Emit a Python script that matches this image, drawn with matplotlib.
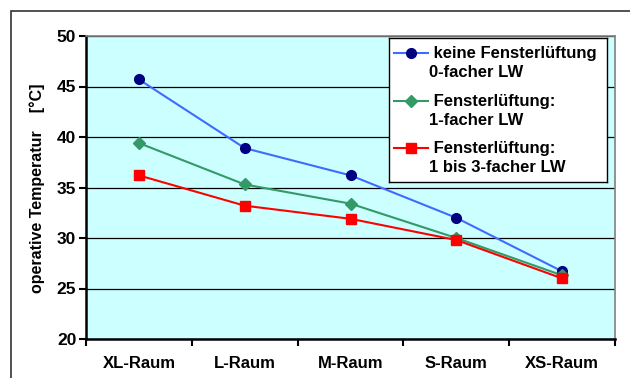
import matplotlib
matplotlib.use("Agg")
import matplotlib.pyplot as plt
from matplotlib.patches import Rectangle

# Daten
raeume = ["XL-Raum", "L-Raum", "M-Raum", "S-Raum", "XS-Raum"]
keine_lueftung = [45.7, 38.9, 36.2, 32.0, 26.7]
lueftung_1fach = [39.4, 35.3, 33.4, 30.0, 26.3]
lueftung_1bis3 = [36.2, 33.2, 31.9, 29.8, 26.0]

labels = [" keine Fensterlüftung\n0-facher LW",
          " Fensterlüftung:\n1-facher LW",
          " Fensterlüftung:\n1 bis 3-facher LW"]

plt.rcParams["font.family"] = ["Liberation Sans", "DejaVu Sans"]
plt.rcParams["font.weight"] = "bold"

W, H = 630, 378
fig = plt.figure(figsize=(W / 100, H / 100), dpi=100)

# aeusserer Rahmen
fig.patches.append(Rectangle((11 / W, -0.2), 1.2, 1.2 - 11 / H, transform=fig.transFigure,
                             fill=False, edgecolor="#333333", linewidth=1.2))

ax = fig.add_axes([86 / W, 1 - 339 / H, 529 / W, 303 / H])
ax.set_facecolor("#CCFFFF")

x = list(range(len(raeume)))
serien = [
    (keine_lueftung, "#3F6BFF", "o", "#000080", 7),
    (lueftung_1fach, "#339966", "D", "#339966", 6),
    (lueftung_1bis3, "#FF0000", "s", "#FF0000", 7),
]
for werte, lc, m, mc, ms in serien:
    ax.plot(x, werte, color=lc, linewidth=1.5, marker=m, markersize=ms,
            markerfacecolor=mc, markeredgecolor=mc, zorder=3)

ax.set_xlim(-0.5, len(raeume) - 0.5)
ax.set_ylim(20, 50)
ax.set_yticks(range(20, 51, 5))
ax.grid(axis="y", color="black", linewidth=0.9)
ax.set_axisbelow(True)

ax.set_xticks([i - 0.5 for i in range(len(raeume) + 1)])
ax.set_xticklabels([])
ax.set_xticks(x, minor=True)
ax.set_xticklabels(raeume, minor=True, fontsize=12, fontweight="bold")
ax.tick_params(axis="x", which="major", length=5, width=1.5, direction="out")
ax.tick_params(axis="x", which="minor", length=0, pad=12)
ax.tick_params(axis="y", length=5, width=1.5, pad=2, labelsize=12.5)

for s in ["top", "right"]:
    ax.spines[s].set_color("#808080")
    ax.spines[s].set_linewidth(1.2)
for s in ["left", "bottom"]:
    ax.spines[s].set_color("black")
    ax.spines[s].set_linewidth(1.8)

fig.text(37 / W, 1 - 188 / H, "operative Temperatur    [°C]", rotation=90,
         ha="center", va="center", fontsize=11.5, fontweight="bold")

# Legende
lax = fig.add_axes([389 / W, 1 - 182 / H, 218 / W, 144 / H])
lax.set_xlim(389, 607)
lax.set_ylim(182, 38)
lax.set_xticks([])
lax.set_yticks([])
for s in lax.spines.values():
    s.set_color("black")
    s.set_linewidth(1.0)
for (werte, lc, m, mc, ms), lab, y0 in zip(serien, labels, [53, 101, 148]):
    lax.plot([394, 428], [y0, y0], color=lc, linewidth=1.5)
    lax.plot([411], [y0], marker=m, markersize=ms, color=mc)
    lax.text(429, y0 - 7, lab, ha="left", va="top", fontsize=12,
             fontweight="bold", linespacing=1.3)

fig.savefig("out.png", dpi=100)
